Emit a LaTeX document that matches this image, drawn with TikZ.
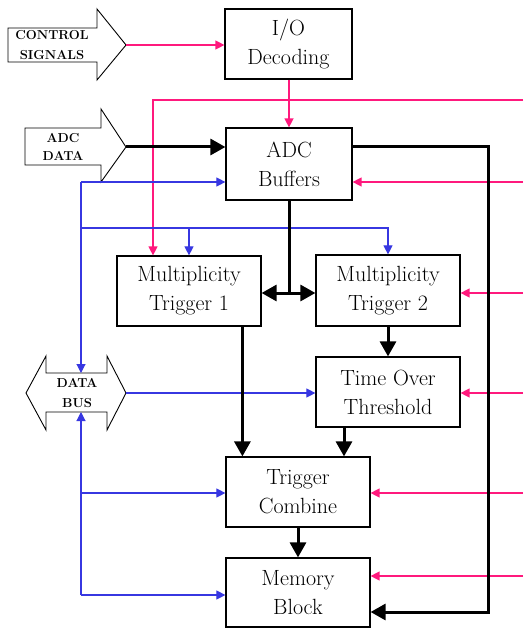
\documentclass[tikz,border=0pt]{standalone}
\usetikzlibrary{arrows.meta,calc}
\definecolor{pinkc}{RGB}{255,25,125}
\definecolor{bluec}{RGB}{55,55,225}
\tikzset{
  box/.style={draw=black, line width=1.2pt, fill=white, align=center, inner sep=0pt,
    font=\fontsize{22}{29}\selectfont},
  blockarrow/.style={draw=black, line width=0.9pt, fill=white},
  arrtext/.style={align=center, inner sep=0pt, font=\fontsize{13}{20}\selectfont\bfseries},
  pinkline/.style={draw=pinkc, line width=1.3pt, -{Triangle[length=9pt,width=9pt]}},
  blueline/.style={draw=bluec, line width=1.1pt, -{Triangle[length=9pt,width=9pt]}},
  thick black/.style={draw=black, line width=3pt, -{Triangle[length=15pt,width=16pt]}},
  thick plain/.style={draw=black, line width=3pt},
}
\begin{document}
\begin{tikzpicture}[x=1pt,y=-1pt]
\useasboundingbox (0,0) rectangle (523,631);

% boxes
\node[box, minimum width=127pt, minimum height=70pt] (io) at (288.5,44) {I/O\\Decoding};
\node[box, minimum width=126pt, minimum height=72pt] (adc) at (289,164) {ADC\\Buffers};
\node[box, minimum width=144pt, minimum height=70pt] (m1) at (189,291) {Multiplicity\\Trigger 1};
\node[box, minimum width=144pt, minimum height=71pt] (m2) at (388,290.5) {Multiplicity\\Trigger 2};
\node[box, minimum width=144pt, minimum height=70pt] (tot) at (388,392) {Time Over\\Threshold};
\node[box, minimum width=144pt, minimum height=70pt] (tc) at (298,492) {Trigger\\Combine};
\node[box, minimum width=144pt, minimum height=69pt] (mem) at (298,592.5) {Memory\\Block};

% block arrows
\draw[blockarrow] (8,28) -- (97,28) -- (97,9) -- (126,45) -- (97,80) -- (97,62) -- (8,62) -- cycle;
\node[arrtext] (cs) at (52,45) {CONTROL\\SIGNALS};
\coordinate (cstip) at (126,45);

\draw[blockarrow] (25,128) -- (101,128) -- (101,109) -- (126,147) -- (101,182) -- (101,165) -- (25,165) -- cycle;
\node[arrtext, font=\fontsize{13}{18}\selectfont\bfseries] (ad) at (63,147) {ADC\\DATA};
\coordinate (adtip) at (126,147);

\draw[blockarrow] (26,393) -- (46,356) -- (46,373) -- (107,373) -- (107,356) -- (126,393) -- (107,430) -- (107,412) -- (46,412) -- (46,430) -- cycle;
\node[arrtext] (db) at (77,393) {DATA\\BUS};
\coordinate (dbtip) at (126,393);
\coordinate (dbtop) at (81,373);
\coordinate (dbbot) at (81,412);

% pink control lines
\draw[pinkline] (cstip) -- (cstip -| io.west);
\draw[pinkline] (adc.north |- io.south) -- (adc.north);
\coordinate (pr1) at (523,100);
\draw[pinkline] (pr1) -| ([xshift=-36pt]m1.north);
\coordinate (pr2) at (523,182);
\draw[pinkline] (pr2) -- (pr2 -| adc.east);
\coordinate (pr3) at (523,293);
\draw[pinkline] (pr3) -- (pr3 -| m2.east);
\coordinate (pr4) at (523,393);
\draw[pinkline] (pr4) -- (pr4 -| tot.east);
\coordinate (pr5) at (523,493);
\draw[pinkline] (pr5) -- (pr5 -| tc.east);
\coordinate (pr6) at (523,576);
\draw[pinkline] (pr6) -- (pr6 -| mem.east);

% blue lines
\coordinate (b1) at (81,182);
\coordinate (b2) at (81,228);
\draw[blueline] (b1) -- (b1 -| adc.west);
\draw[blueline] (b1) -- (dbtop);
\draw[blueline] (b2) -| (m2.north);
\draw[blueline] (b2 -| m1.north) -- (m1.north);
\draw[blueline] (dbtip) -- (dbtip -| tot.west);
\coordinate (b3) at (81,493);
\coordinate (b4) at (81,595);
\draw[blueline] (b4) -- (dbbot);
\draw[blueline] (b3) -- (b3 -| tc.west);
\draw[blueline] (b4) -- (b4 -| mem.west);

% black data lines
\draw[thick black] (adtip) -- (adtip -| adc.west);
\coordinate (k1) at (488,147);
\coordinate (k2) at (488,612);
\draw[thick black] (k1 -| adc.east) -- (k1) -- (k2) -- (k2 -| mem.east);
\coordinate (k3) at (289,293);
\draw[thick plain] (adc.south) -- (k3);
\draw[draw=black, line width=3pt, {Triangle[length=15pt,width=16pt]}-{Triangle[length=15pt,width=16pt]}] (k3 -| m1.east) -- (k3 -| m2.west);
\coordinate (k4) at ([xshift=17pt]tc.north west);
\draw[thick black] (m1.south -| k4) -- (k4);
\draw[thick black] (m2.south) -- (tot.north);
\draw[thick black] ([xshift=-44pt]tot.south) -- ([xshift=-44pt]tot.south |- tc.north);
\draw[thick black] (tc.south) -- (mem.north);
\end{tikzpicture}
\end{document}
